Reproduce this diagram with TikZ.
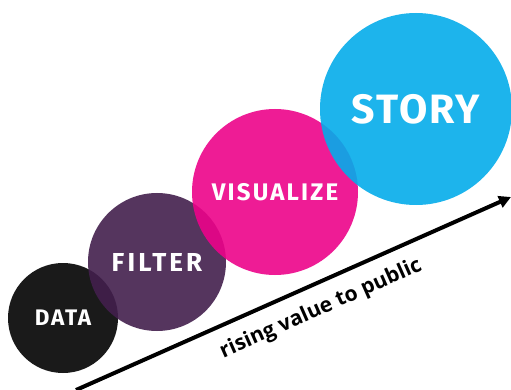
\documentclass[tikz,border=0pt]{standalone}
\usepackage{fontspec}
\setsansfont{Fira Sans}
\newfontfamily\arrowfont{Open Sans}
\usetikzlibrary{arrows.meta}
\definecolor{dataBlack}{HTML}{010101}
\definecolor{filterPurple}{HTML}{421F4D}
\definecolor{visMagenta}{HTML}{EC038A}
\definecolor{storyCyan}{HTML}{04ACEA}
\newcommand{\blobfont}[2]{\sffamily\bfseries\fontsize{#1}{#1}\selectfont\addfontfeatures{LetterSpace=#2}}

\begin{document}
\begin{tikzpicture}[x=1pt,y=-1pt,
    blob/.style={circle,inner sep=0pt,fill opacity=0.9,text opacity=1,text=white}]
        \useasboundingbox (0,0) rectangle (511,390);
        % Draw the circles
        \node[blob,fill=dataBlack,minimum size=110pt,font=\blobfont{22.5}{8}] (data) at (63,318) {DATA};
        \node[blob,fill=filterPurple,minimum size=138pt,font=\blobfont{26}{12}] (filter) at (157,262) {FILTER};
        \node[blob,fill=visMagenta,minimum size=166pt,font=\blobfont{24}{9}] (visualize) at (275,192) {VISUALIZE};
        \node[blob,fill=storyCyan,minimum size=192pt,font=\blobfont{41}{5}] (story) at (416,109) {STORY};
        % Draw the arrow
        \coordinate (low) at (76,390);
        \coordinate (high) at (511,197);
        \draw[line width=4pt,-{Triangle[length=12pt,width=12pt]}] (low) -- (high);
        % Text along the arrow
        \node[rotate=23.9,font=\arrowfont\bfseries\fontsize{21}{21}\selectfont] (rising) at (321,309) {rising value to public};
\end{tikzpicture}
\end{document}
